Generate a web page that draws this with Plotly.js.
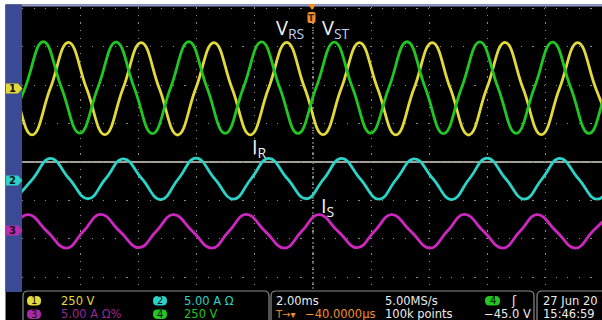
<!DOCTYPE html>
<html><head><meta charset="utf-8">
<script src="https://cdn.plot.ly/plotly-3.0.1.min.js"></script>
<style>html,body{margin:0;padding:0;background:#000;overflow:hidden}#chart{width:602px;height:320px}</style>
</head><body><div id="chart"></div>
<script>
// Time in ms (2.00 ms/div, trigger at 0). Values read at peaks, troughs and crossings.
const vRS_t = [-10.905,-10.280,-9.655,-9.030,-8.405,-7.780,-7.155,-6.530,-5.905,-5.280,-4.655,-4.030,-3.405,-2.780,-2.155,-1.530,-0.905,-0.280,0.345,0.970,1.595,2.220,2.845,3.470,4.095,4.720,5.345,5.970,6.595,7.220,7.845,8.470,9.095,9.720,10.345];
const vRS_v = [296,-4,-305,-4,297,-4,-304,-4,295,-4,-306,-4,296,-4,-305,-4,297,-4,-304,-4,296,-4,-305,-4,295,-4,-306,-4,297,-4,-304,-4,296,-4,-305];

const vST_t = [-10.518,-9.893,-9.268,-8.643,-8.018,-7.393,-6.768,-6.143,-5.518,-4.893,-4.268,-3.643,-3.018,-2.393,-1.768,-1.143,-0.518,0.107,0.732,1.357,1.982,2.607,3.232,3.857,4.482,5.107,5.732,6.357,6.982,7.607,8.232,8.857,9.482,10.107,10.732];
const vST_v = [-296,2,301,2,-294,2,299,2,-297,2,302,2,-295,2,300,2,-296,2,298,2,-294,2,301,2,-297,2,300,2,-295,2,299,2,-296,2,300];

const iR_t = [-10.235,-9.628,-9.021,-8.378,-7.735,-7.128,-6.521,-5.878,-5.235,-4.628,-4.021,-3.378,-2.735,-2.128,-1.521,-0.878,-0.235,0.372,0.979,1.622,2.265,2.872,3.479,4.122,4.765,5.372,5.979,6.622,7.265,7.872,8.479,9.122,9.765,10.372,10.979];
const iR_v = [-2.40,0.25,2.90,0.25,-2.35,0.25,2.85,0.25,-2.45,0.25,2.95,0.25,-2.40,0.25,2.90,0.25,-2.35,0.25,2.90,0.25,-2.40,0.25,2.85,0.25,-2.45,0.25,2.95,0.25,-2.40,0.25,2.90,0.25,-2.40,0.25,2.90];

const iS_t = [-10.978,-10.389,-9.799,-9.139,-8.478,-7.889,-7.299,-6.639,-5.978,-5.389,-4.799,-4.139,-3.478,-2.889,-2.299,-1.639,-0.978,-0.389,0.201,0.862,1.522,2.112,2.701,3.362,4.022,4.612,5.201,5.862,6.522,7.112,7.701,8.362,9.022,9.612,10.201];
const iS_v = [-2.35,-0.17,2.00,-0.17,-2.35,-0.17,2.05,-0.17,-2.30,-0.17,2.00,-0.17,-2.35,-0.17,2.05,-0.17,-2.35,-0.17,2.00,-0.17,-2.30,-0.17,2.00,-0.17,-2.35,-0.17,2.05,-0.17,-2.35,-0.17,2.00,-0.17,-2.35,-0.17,2.00];

const readoutRow1 = ['250 V','5.00 A Ω','2.00ms','5.00MS/s','27 Jun 20'];
const readoutRow2 = ['5.00 A Ω%','250 V','−40.0000µs','100k points','−45.0 V','15:46:59'];

// ---- layout helpers (pixel -> paper) ----
const L=22,R=602,T=7,B=289;
const px = x => (x-L)/(R-L);
const py = y => (B-y)/(B-T);
function rr(x0,y0,x1,y1,r){
  const P=(x,y)=>px(x).toFixed(5)+','+py(y).toFixed(5);
  return 'M'+P(x0+r,y0)+' L'+P(x1-r,y0)+' Q'+P(x1,y0)+' '+P(x1,y0+r)+' L'+P(x1,y1-r)+' Q'+P(x1,y1)+' '+P(x1-r,y1)+
         ' L'+P(x0+r,y1)+' Q'+P(x0,y1)+' '+P(x0,y1-r)+' L'+P(x0,y0+r)+' Q'+P(x0,y0)+' '+P(x0+r,y0)+' Z';
}
function poly(pts){return 'M'+pts.map(p=>px(p[0]).toFixed(5)+','+py(p[1]).toFixed(5)).join(' L')+' Z';}
function rectP(x0,y0,x1,y1,fill,layer){return {type:'rect',xref:'paper',yref:'paper',x0:px(x0),x1:px(x1),y0:py(y1),y1:py(y0),fillcolor:fill,line:{width:0},layer:layer||'above'};}
function pathP(path,fill,lc,lw){return {type:'path',xref:'paper',yref:'paper',path:path,fillcolor:fill,line:{color:lc||fill,width:lw===undefined?0:lw},layer:'above'};}
function txt(x,y,t,color,size,anchor,fam,weight){return {xref:'paper',yref:'paper',x:px(x),y:py(y),text:t,showarrow:false,xanchor:anchor||'left',yanchor:'middle',font:{family:fam||'DejaVu Sans',size:size||11,color:color,weight:weight||'normal'}};}

const YEL='#e2da3a', GRN='#22c622', CYN='#2cd2c6', MAG='#cc28c0', ORG='#f0902a';
const SM=1.3;

const traces = [
  {x:vRS_t,y:vRS_v,yaxis:'y',mode:'lines',line:{color:YEL,width:2.8,shape:'spline',smoothing:SM},hoverinfo:'skip'},
  {x:vST_t,y:vST_v,yaxis:'y',mode:'lines',line:{color:GRN,width:2.8,shape:'spline',smoothing:SM},hoverinfo:'skip'},
  {x:iR_t,y:iR_v,yaxis:'y2',mode:'lines',line:{color:CYN,width:2.8,shape:'spline',smoothing:SM},hoverinfo:'skip'},
  {x:iS_t,y:iS_v,yaxis:'y3',mode:'lines',line:{color:MAG,width:2.8,shape:'spline',smoothing:SM},hoverinfo:'skip'}
];

const shapes = [
  // centre lines
  {type:'line',xref:'x',yref:'paper',x0:0,x1:0,y0:0,y1:1,line:{color:'#a8a8a8',width:1,dash:'2px,3px'},layer:'below'},
  {type:'line',xref:'paper',yref:'y',x0:0,x1:1,y0:-481.8,y1:-481.8,line:{color:'#dcd6c6',width:1.5},layer:'below'},
  // frame pieces
  rectP(0,0,602,4.5,'#ffffff'),
  rectP(22,4.5,602,6.5,'#8e9ad0'),
  rectP(0,0,5.5,320,'#ffffff'),
  rectP(5.5,4.5,22,292,'#3c4a96'),
  // readout boxes
  pathP(rr(23,291,269,330,5),'rgba(0,0,0,0)','#8a8a8a',1.2),
  pathP(rr(271,291,534,330,5),'rgba(0,0,0,0)','#8a8a8a',1.2),
  pathP(rr(537,291,640,330,5),'rgba(0,0,0,0)','#8a8a8a',1.2),
  // readout badges
  pathP(rr(27,296,41,305.5,4.5),YEL),
  pathP(rr(153,296,167,305.5,4.5),CYN),
  pathP(rr(27,309.5,41,319,4.5),'#a82aa2'),
  pathP(rr(153,309.5,167,319,4.5),GRN),
  pathP(rr(485,296,500,305.5,4.5),GRN),
  // channel tags on left
  pathP(poly([[6,83.5],[18,83.5],[22.5,88.5],[18,93.5],[6,93.5]]),YEL),
  pathP(poly([[6,175.5],[18,175.5],[22.5,180.5],[18,185.5],[6,185.5]]),CYN),
  pathP(poly([[6,225.5],[18,225.5],[22.5,230.5],[18,235.5],[6,235.5]]),'#b82cb0'),
  // trigger marker
  pathP(poly([[308,4],[316,4],[312,10]]),ORG),
  pathP(rr(307.5,12,315.5,23,2),ORG)
];

const annotations = [
  txt(274,28,"V<sub><span style='color:#bcd2f0'>RS</span></sub>",'#f2f2f2',20,'left','Open Sans'),
  txt(320,28,"V<sub><span style='color:#bcd2f0'>ST</span></sub>",'#f2f2f2',20,'left','Open Sans'),
  txt(250,147,"I<sub>R</sub>",'#f2f2f2',20,'left','Open Sans'),
  txt(319,206,"I<sub>S</sub>",'#f2f2f2',20,'left','Open Sans'),
  txt(311.5,17.5,'T','#3a2000',9,'center','DejaVu Sans','bold'),
  // left tags
  txt(12,88.5,'1','#111',10,'center','DejaVu Sans','bold'),
  txt(12,180.5,'2','#111',10,'center','DejaVu Sans','bold'),
  txt(12,230.5,'3','#111',10,'center','DejaVu Sans','bold'),
  // badges
  txt(34,300.8,'1','#111',10,'center'),
  txt(160,300.8,'2','#111',10,'center'),
  txt(34,314.3,'3','#111',10,'center'),
  txt(160,314.3,'4','#111',10,'center'),
  txt(492.5,300.8,'4','#111',10,'center'),
  // readouts row 1
  txt(59,300.5,readoutRow1[0],YEL,11.5),
  txt(182,300.5,readoutRow1[1],CYN,11.5),
  txt(274,300.5,readoutRow1[2],'#ececec',11.5),
  txt(383,300.5,readoutRow1[3],'#ececec',11.5),
  txt(509,300.5,'ʃ','#ececec',12),
  txt(541,300.5,readoutRow1[4],'#ececec',11.5),
  // readouts row 2
  txt(59,314,readoutRow2[0],'#9a2696',11.5),
  txt(182,314,readoutRow2[1],GRN,11.5),
  txt(273,314,'T→▾',ORG,10),
  txt(303,314,readoutRow2[2],ORG,11.5),
  txt(383,314,readoutRow2[3],'#ececec',11.5),
  txt(482,314,readoutRow2[4],'#ececec',11.5),
  txt(541,314,readoutRow2[5],'#ececec',11.5)
];

const layout = {
  width:602,height:320,
  margin:{l:22,r:0,t:7,b:31,pad:0},
  paper_bgcolor:'#000',plot_bgcolor:'#000',
  showlegend:false,hovermode:false,
  xaxis:{range:[-10,9.931],tick0:0,dtick:2,showgrid:true,gridcolor:'#8c8c8c',gridwidth:1.2,griddash:'1.2px,6.5px',
         zeroline:false,showline:false,showticklabels:false,ticks:'',fixedrange:true},
  yaxis:{range:[-1308.6,527.3],tick0:-481.8,dtick:250,showgrid:true,gridcolor:'#8c8c8c',gridwidth:1.2,griddash:'1.2px,10.4px',
         zeroline:false,showline:false,showticklabels:false,ticks:'',fixedrange:true},
  yaxis2:{range:[-14.10,22.62],overlaying:'y',visible:false,fixedrange:true},
  yaxis3:{range:[-7.68,29.04],overlaying:'y',visible:false,fixedrange:true},
  shapes:shapes,annotations:annotations
};
Plotly.newPlot('chart',traces,layout,{staticPlot:true,displayModeBar:false});
</script></body></html>
